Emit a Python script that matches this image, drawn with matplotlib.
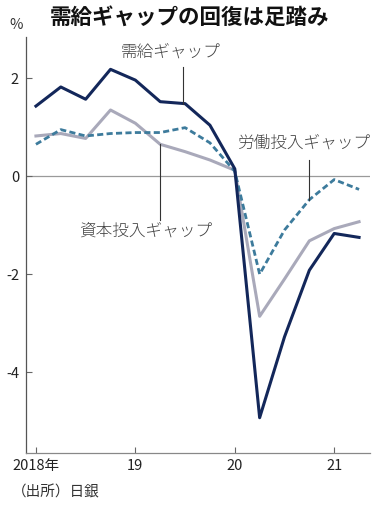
import matplotlib
matplotlib.use("Agg")
import matplotlib.pyplot as plt

plt.rcParams['font.family'] = ['Noto Sans CJK JP', 'DejaVu Sans']

# quarterly, 2018Q1 .. 2021Q2
quarters = [2018 + i * 0.25 for i in range(14)]
demand_gap = [1.43, 1.82, 1.57, 2.18, 1.96, 1.52, 1.48, 1.04, 0.15,
              -4.93, -3.28, -1.92, -1.17, -1.25]
capital_gap = [0.82, 0.87, 0.77, 1.35, 1.08, 0.65, 0.50, 0.33, 0.12,
               -2.86, -2.10, -1.32, -1.07, -0.93]
labor_gap = [0.65, 0.95, 0.82, 0.87, 0.89, 0.89, 0.99, 0.68, 0.10,
             -2.00, -1.10, -0.48, -0.07, -0.27]
xtick_pos = [2018, 2019, 2020, 2021]
xtick_labels = ['2018年', '19', '20', '21']
ytick_pos = [-4, -2, 0, 2]

navy = '#13275a'
gray = '#a9a9ba'
teal = '#3d7b9c'
label_color = '#444444'

fig = plt.figure(figsize=(3.8, 5.11), dpi=100)
ax = fig.add_axes([26 / 380, 1 - 453 / 511, (370 - 26) / 380, (453 - 37) / 511])

ax.axhline(0, color='#9a9a9a', lw=0.9, zorder=1)
ax.plot(quarters, capital_gap, color=gray, lw=2.2, zorder=2)
ax.plot(quarters, labor_gap, color=teal, lw=2.0, ls=(0, (2.2, 1.2)), zorder=3)
ax.plot(quarters, demand_gap, color=navy, lw=2.2, zorder=4)

ax.set_xlim(2017.9, 2021.36)
ax.set_ylim(-5.65, 2.84)

for s in ['top', 'right']:
    ax.spines[s].set_visible(False)
ax.spines['left'].set_color('#555555')
ax.spines['bottom'].set_color('#888888')
ax.spines['left'].set_linewidth(0.9)
ax.spines['bottom'].set_linewidth(0.9)

ax.set_xticks(xtick_pos)
ax.set_xticklabels(xtick_labels)
ax.set_yticks(ytick_pos)
ax.set_yticklabels([str(v) for v in ytick_pos])
ax.tick_params(axis='both', direction='in', length=4, width=0.8, color='#666666',
               labelsize=10.5, labelcolor='#222222')
ax.tick_params(axis='x', pad=4)
ax.tick_params(axis='y', pad=5)

# annotations with leader lines
ax.plot([2019.48, 2019.48], [1.48, 2.22], color='#333333', lw=0.8, zorder=5)
ax.text(2019.36, 2.53, '需給ギャップ', ha='center', va='center', fontsize=12,
        fontweight='light', color=label_color)

ax.plot([2020.75, 2020.75], [-0.48, 0.33], color='#333333', lw=0.8, zorder=5)
ax.text(2020.69, 0.67, '労働投入ギャップ', ha='center', va='center', fontsize=12,
        fontweight='light', color=label_color)

ax.plot([2019.25, 2019.25], [0.65, -0.9], color='#333333', lw=0.8, zorder=5)
ax.text(2019.1, -1.12, '資本投入ギャップ', ha='center', va='center', fontsize=12,
        fontweight='light', color=label_color)

fig.text(190 / 380, 1 - 17 / 511, '需給ギャップの回復は足踏み', ha='center', va='center',
         fontsize=15.5, fontweight='bold', color='#111111')
fig.text(9 / 380, 1 - 25 / 511, '%', ha='left', va='center', fontsize=10.5, color='#333333')
fig.text(12 / 380, 1 - 492 / 511, '（出所）日銀', ha='left', va='center', fontsize=10.5,
         color='#333333')

fig.savefig('out.png', dpi=100)
